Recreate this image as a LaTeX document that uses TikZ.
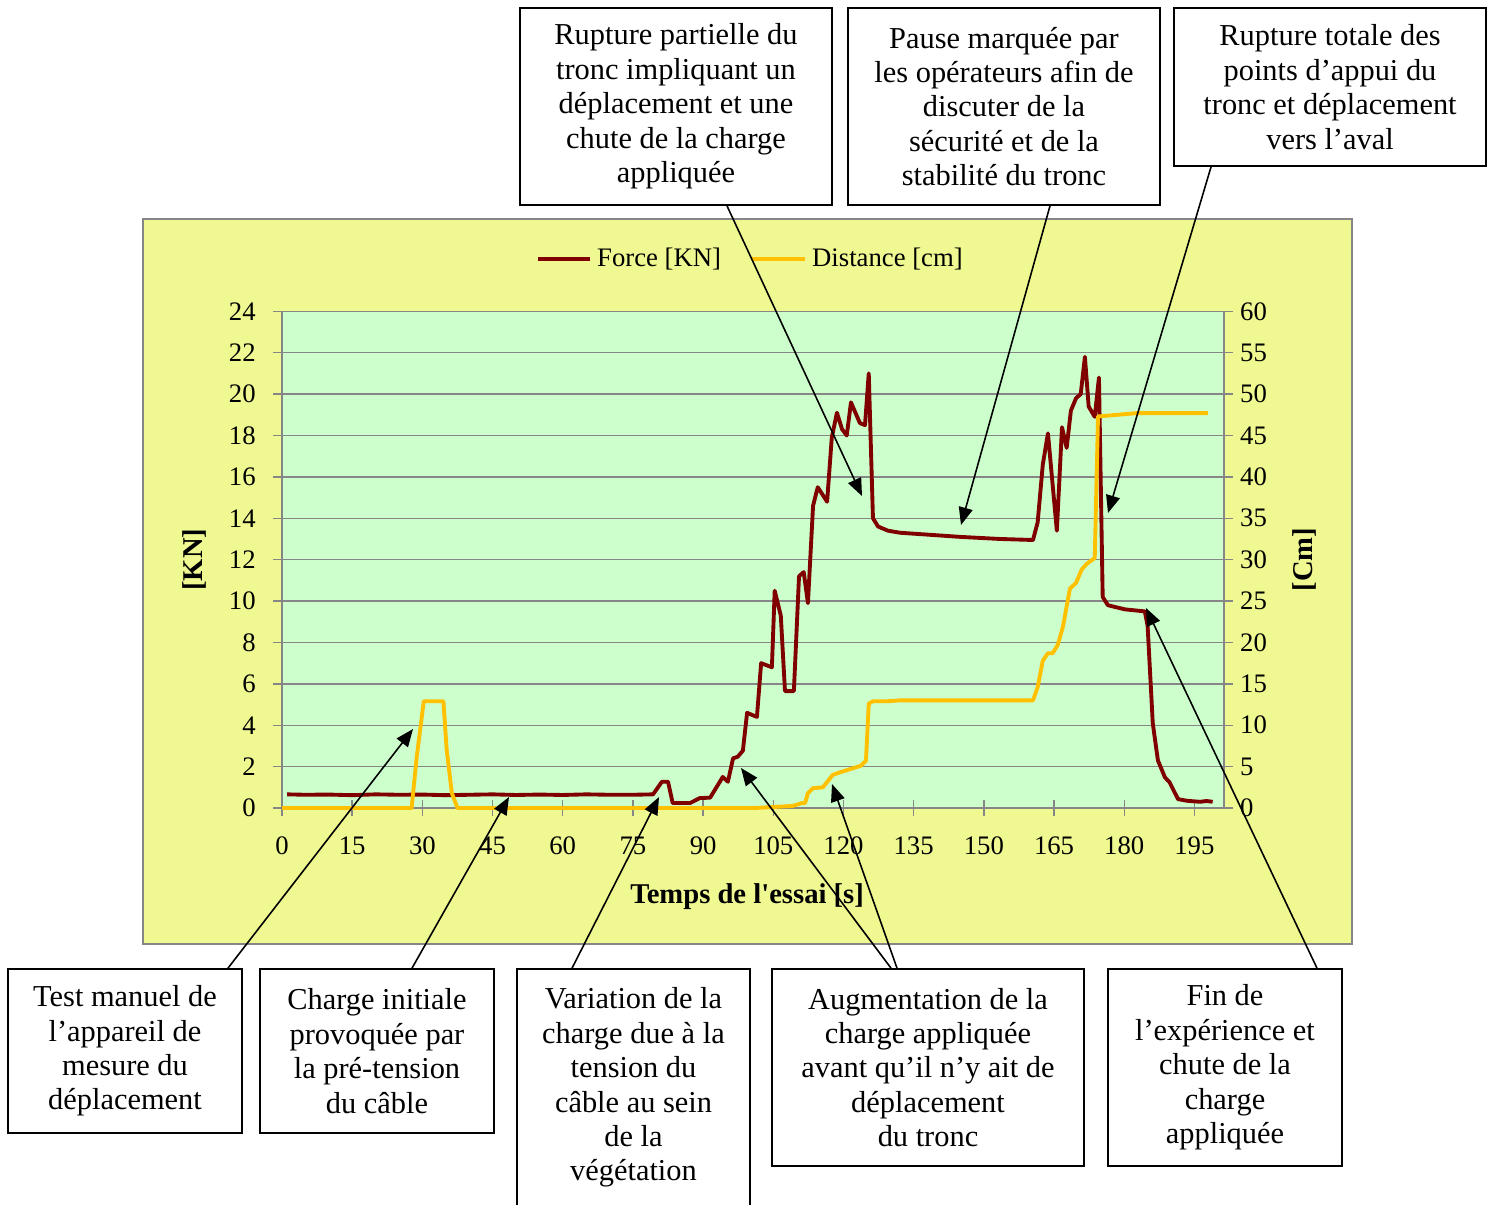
\documentclass[tikz,border=0pt]{standalone}
\usepackage{fontspec}
\setmainfont{Liberation Serif}
\usetikzlibrary{arrows.meta}
\definecolor{chartbg}{RGB}{239,248,145}
\definecolor{plotbg}{RGB}{204,255,204}
\definecolor{gridgray}{RGB}{134,134,134}
\definecolor{forcered}{RGB}{128,0,0}
\definecolor{distyellow}{RGB}{255,192,0}
\begin{document}
\begin{tikzpicture}[x=0.02cm,y=-0.02cm,
    note/.style={draw,line width=1pt,align=center,inner sep=0pt,
      font=\fontsize{17.3}{19.6}\selectfont},
    pointer/.style={line width=0.9pt,-{Triangle[length=10pt,width=8pt]}},
    gridline/.style={gridgray,line width=0.8pt},
    ticklabel/.style={inner sep=0pt,text=black,font=\fontsize{15.2}{18}\selectfont},
    axistitle/.style={inner sep=0pt,font=\fontsize{16.3}{19}\selectfont\bfseries},
    forceline/.style={forcered,line width=2.2pt,line join=round},
    distline/.style={distyellow,line width=2.2pt,line join=round}]
  \useasboundingbox[fill=white] (0,0) rectangle (1493,1204);
  % chart area and legend
  \draw[gridgray,line width=1pt,fill=chartbg] (143,219) rectangle (1352,944);
  \draw[forceline] (538,259) -- (590,259) node[right,ticklabel,xshift=3pt] (forcekey) {Force [KN]};
  \draw[distline] (752,259) -- (805,259) node[right,ticklabel,xshift=3pt] (distkey) {Distance [cm]};
  % plot area: x in s, y in kN
  \begin{scope}[shift={(282,808)},x=0.0936cm,y=0.414cm]
    \fill[plotbg] (0,0) rectangle (201.3,24);
    \foreach \v in {0,2,...,24}
      \draw[gridline] (-1.92,\v) -- (203.2,\v);
    \draw[gridline] (0,-0.39) -- (0,24);
    \draw[gridline] (201.3,0) -- (201.3,24);
    \foreach \t in {15,30,...,195}
      \draw[gridline] (\t,-0.39) -- (\t,0.39);
    \foreach \t in {0,15,...,195}
      \node[ticklabel] at (\t,-1.84) {\t};
    \foreach \v in {0,2,...,24}
      \node[ticklabel,anchor=east,xshift=-0.52cm] at (0,\v) {\v};
    \foreach \c in {0,5,...,60}
      \node[ticklabel,anchor=west,xshift=0.32cm] at (201.3,{\c/2.5}) {\c};
    \node[axistitle,rotate=90] (kntitle) at (-18.6,12) {[KN]};
    \node[axistitle,rotate=90] (cmtitle) at (218.6,12) {[Cm]};
    \node[axistitle] (ttitle) at (99.4,-4.3) {Temps de l\textquotesingle essai [s]};
    % Force [KN]
    \draw[forceline] plot coordinates {(1.1,0.66) (5,0.64) (10,0.65) (15,0.62) (20,0.66)
      (25,0.64) (30,0.65) (35,0.62) (40,0.64) (45,0.66) (50,0.63) (55,0.65) (60,0.63)
      (65,0.66) (70,0.64) (75,0.64) (79.3,0.66) (81.2,1.27) (82.5,1.27) (83.5,0.24)
      (87.2,0.24) (89.3,0.48) (91.5,0.5) (94.2,1.5) (95.3,1.27) (96.4,2.4) (97.4,2.48)
      (98.5,2.77) (99.4,4.6) (101.5,4.4) (102.4,7.0) (104.7,6.8) (105.3,10.5) (106.6,9.3)
      (107.5,5.65) (109.4,5.65) (110.5,11.2) (111.5,11.4) (112.4,9.9) (113.5,14.6)
      (114.5,15.5) (116.5,14.8) (117.5,17.9) (118.6,19.1) (119.7,18.3) (120.7,18.0)
      (121.6,19.6) (123.5,18.6) (124.6,18.5) (125.4,21.0) (126.3,14.0) (127.4,13.6)
      (129.5,13.4) (132.1,13.3) (145,13.1) (153.4,13.0) (160.5,12.95) (161.5,13.8)
      (162.6,16.6) (163.7,18.1) (165.6,13.4) (166.7,18.4) (167.7,17.4) (168.6,19.2)
      (169.7,19.8) (170.7,20.0) (171.6,21.8) (172.4,19.4) (173.7,18.9) (174.6,20.8)
      (175.4,10.2) (176.5,9.8) (180.1,9.6) (184.4,9.5) (185.0,8.8) (186.1,4.1)
      (187.2,2.3) (188.7,1.48) (189.7,1.24) (191.5,0.43) (193.4,0.35) (196.2,0.3)
      (197.6,0.34) (198.9,0.3)};
    % Distance [cm] on the right axis
    \begin{scope}[yscale=0.4]
      \draw[distline] plot coordinates {(0,0) (27.7,0) (28.8,6.2) (30.3,12.9) (34.5,12.9)
        (35.2,7.0) (36.3,1.8) (37.5,0) (101,0) (109.2,0.25) (111.1,0.6) (111.8,0.6)
        (112.4,1.8) (113.5,2.4) (115.6,2.5) (117.7,4.0) (119.2,4.3) (122.0,4.8)
        (123.7,5.1) (124.8,5.7) (125.4,12.6) (126.3,12.9) (129.3,12.9) (132.1,13.0)
        (160.5,13.0) (161.5,14.6) (162.6,17.8) (163.7,18.7) (164.7,18.7) (165.8,19.7)
        (166.9,21.9) (168.4,26.5) (169.7,27.2) (170.9,28.8) (172.0,29.5) (173.7,30.2)
        (174.4,47.3) (180.6,47.6) (182.7,47.7) (197.9,47.7)};
    \end{scope}
  \end{scope}
  % events
  \coordinate (partielletip) at (862,496);
  \coordinate (pausetip) at (961,525);
  \coordinate (totaletip) at (1108,513);
  \coordinate (testtip) at (413,729);
  \coordinate (initialetip) at (509,797);
  \coordinate (variationtip) at (659,797);
  \coordinate (forcetip) at (741,768);
  \coordinate (disttip) at (832,784);
  \coordinate (fintip) at (1146,608);
  \node[note,minimum width=6.24cm,minimum height=3.94cm] (partielle) at (676,106.5)
    {Rupture partielle du\\tronc impliquant un\\déplacement et une\\chute de la charge\\appliquée};
  \node[note,minimum width=6.24cm,minimum height=3.94cm] (pause) at (1004,106.5)
    {Pause marquée par\\les opérateurs afin de\\discuter de la\\sécurité et de la\\stabilité du tronc};
  \node[note,minimum width=6.24cm,minimum height=3.16cm] (totale) at (1330,87)
    {Rupture totale des\\points d’appui du\\tronc et déplacement\\vers l’aval};
  \node[note,minimum width=4.68cm,minimum height=3.28cm] (test) at (125,1051)
    {Test manuel de\\l’appareil de\\mesure du\\déplacement};
  \node[note,minimum width=4.68cm,minimum height=3.28cm] (initiale) at (377,1051)
    {Charge initiale\\provoquée par\\la pré-tension\\du câble};
  \node[note,minimum width=4.66cm,minimum height=4.74cm] (variation) at (633.5,1087.5)
    {Variation de la\\charge due à la\\tension du\\câble au sein\\de la\\végétation};
  \node[note,minimum width=6.24cm,minimum height=3.94cm] (augmentation) at (928,1067.5)
    {Augmentation de la\\charge appliquée\\avant qu’il n’y ait de\\déplacement\\du tronc};
  \node[note,minimum width=4.68cm,minimum height=3.94cm] (fin) at (1225,1067.5)
    {Fin de\\l’expérience et\\chute de la\\charge\\appliquée};
  \draw[pointer] ([xshift=1.02cm]partielle.south) -- (partielletip);
  \draw[pointer] ([xshift=0.92cm]pause.south) -- (pausetip);
  \draw[pointer] ([xshift=-2.38cm]totale.south) -- (totaletip);
  \draw[pointer] ([xshift=2.06cm]test.north) -- (testtip);
  \draw[pointer] ([xshift=0.7cm]initiale.north) -- (initialetip);
  \draw[pointer] ([xshift=-1.23cm]variation.north) -- (variationtip);
  \draw[pointer] ([xshift=-0.74cm]augmentation.north) -- (forcetip);
  \draw[pointer] ([xshift=-0.62cm]augmentation.north) -- (disttip);
  \draw[pointer] ([xshift=1.84cm]fin.north) -- (fintip);
\end{tikzpicture}
\end{document}
